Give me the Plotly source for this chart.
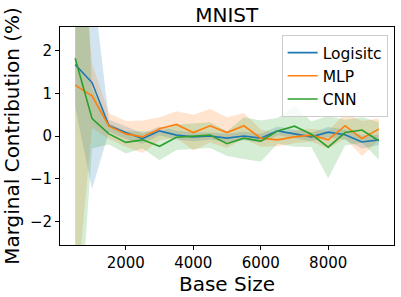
import plotly.graph_objects as go

base_size = [500, 1000, 1500, 2000, 2500, 3000, 3500, 4000, 4500, 5000,
             5500, 6000, 6500, 7000, 7500, 8000, 8500, 9000, 9500]

logistic_mean = [1.67, 1.25, 0.24, 0.08, -0.06, 0.12, 0.02, -0.02, 0.00, -0.05,
                 0.00, -0.05, 0.12, 0.05, -0.02, 0.09, 0.03, -0.14, -0.09]
logistic_std = [1.0, 2.49, 0.14, 0.15, 0.12, 0.1, 0.1, 0.1, 0.08, 0.1,
                0.1, 0.1, 0.1, 0.1, 0.1, 0.12, 0.12, 0.15, 0.12]

mlp_mean = [1.19, 0.94, 0.23, 0.05, -0.02, 0.17, 0.27, 0.08, 0.24, 0.08,
            0.24, -0.05, -0.09, -0.02, 0.02, -0.09, 0.24, -0.06, 0.16]
mlp_std = [5.2, 0.75, 0.3, 0.3, 0.38, 0.27, 0.31, 0.42, 0.39, 0.36,
           0.3, 0.2, 0.15, 0.15, 0.15, 0.2, 0.3, 0.41, 0.25]

cnn_mean = [1.82, 0.41, 0.05, -0.15, -0.09, -0.24, -0.03, 0.00, 0.02, -0.18,
            -0.05, -0.12, 0.12, 0.23, 0.04, -0.26, 0.08, 0.14, -0.11]
cnn_std = [7.7, 0.7, 0.25, 0.26, 0.2, 0.33, 0.3, 0.3, 0.3, 0.29,
           0.49, 0.48, 0.3, 0.48, 0.3, 0.73, 0.3, 0.3, 0.44]

series = [
    ("Logisitc", logistic_mean, logistic_std, "#1f77b4", "rgba(31,119,180,0.2)"),
    ("MLP", mlp_mean, mlp_std, "#ff7f0e", "rgba(255,127,14,0.2)"),
    ("CNN", cnn_mean, cnn_std, "#2ca02c", "rgba(44,160,44,0.2)"),
]

fig = go.Figure()
for name, mean, std, color, fill in series:
    upper = [m + s for m, s in zip(mean, std)]
    lower = [m - s for m, s in zip(mean, std)]
    fig.add_trace(go.Scatter(
        x=base_size + base_size[::-1], y=upper + lower[::-1],
        fill="toself", fillcolor=fill, line=dict(width=0),
        mode="lines", hoverinfo="skip", showlegend=False))
for name, mean, std, color, fill in series:
    fig.add_trace(go.Scatter(
        x=base_size, y=mean, mode="lines", name=name,
        line=dict(color=color, width=1.6)))

font = "DejaVu Sans, Verdana, sans-serif"
fig.update_layout(
    width=401, height=297,
    margin=dict(l=60, r=7, t=27, b=52, autoexpand=False),
    paper_bgcolor="white", plot_bgcolor="white",
    font=dict(family=font, color="black", size=15),
    title=dict(text="MNIST", x=0.5655, xanchor="center", y=0.925, yanchor="bottom",
               font=dict(size=20, family=font, color="black")),
    legend=dict(x=0.981, y=0.963, xanchor="right", yanchor="top",
                bgcolor="rgba(255,255,255,0.8)", bordercolor="#cccccc", borderwidth=1,
                font=dict(size=15.5, family=font, color="black"),
                tracegroupgap=0),
    showlegend=True,
)
fig.update_xaxes(range=[50, 9950], tickvals=[2000, 4000, 6000, 8000], automargin=False,
                 showgrid=False, zeroline=False, showline=True, linecolor="black",
                 linewidth=1, mirror=True, ticks="outside", ticklen=4, tickcolor="black",
                 tickfont=dict(size=15),
                 title=dict(text="Base Size", font=dict(size=20), standoff=4))
fig.update_yaxes(range=[-2.55, 2.55], tickvals=[-2, -1, 0, 1, 2], automargin=False,
                 ticktext=["\u22122", "\u22121", "0", "1", "2"],
                 showgrid=False, zeroline=False, showline=True, linecolor="black",
                 linewidth=1, mirror=True, ticks="outside", ticklen=4, tickcolor="black",
                 tickfont=dict(size=15),
                 title=dict(text="Marginal Contribution (%)", font=dict(size=20), standoff=10))

fig.write_html("out.html", config={"displayModeBar": False},
               post_script="document.body.style.margin='0';")
